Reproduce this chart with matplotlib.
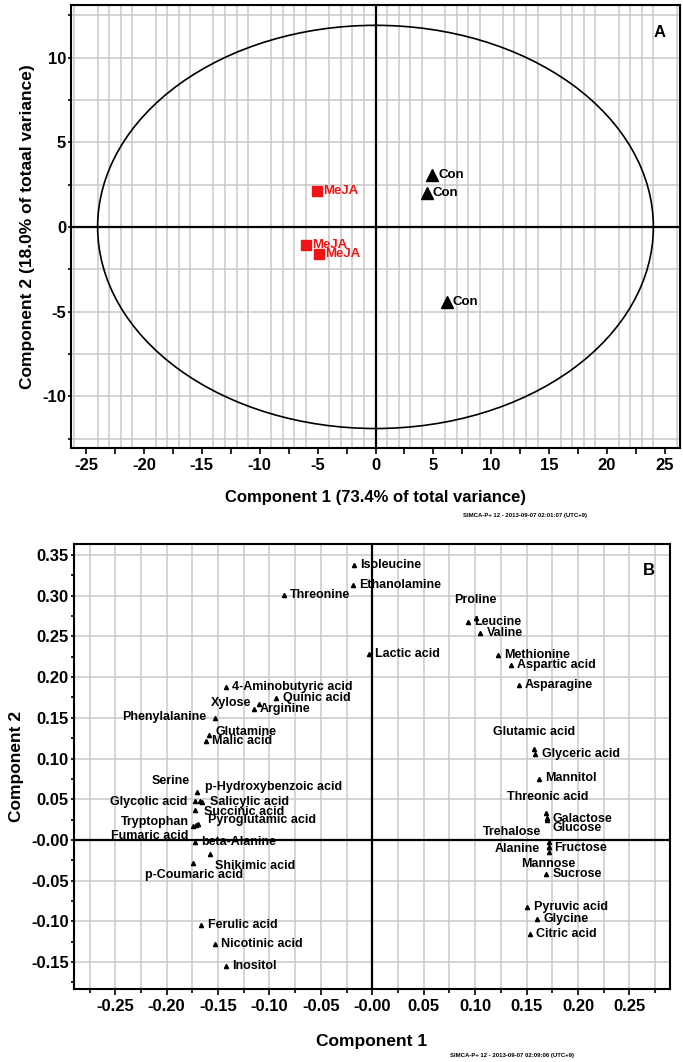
import matplotlib
matplotlib.use("Agg")
import matplotlib.pyplot as plt
from matplotlib.patches import Ellipse
from matplotlib.ticker import MultipleLocator, FuncFormatter
import numpy as np

plt.rcParams['font.family'] = ['Liberation Sans', 'DejaVu Sans']
plt.rcParams['font.weight'] = 'bold'

# ---------------- Panel A data: PCA scores ----------------
score_labels = ['MeJA', 'MeJA', 'MeJA', 'Con', 'Con', 'Con']
score_t1 = [-5.03, -5.98, -4.84, 4.92, 4.43, 6.20]
score_t2 = [2.15, -1.06, -1.59, 3.07, 2.03, -4.41]
ellipse_t1_radius = 24.0
ellipse_t2_radius = 11.9
xlabel_A = 'Component 1 (73.4% of total variance)'
ylabel_A = 'Component 2 (18.0% of totaal variance)'

# ---------------- Panel B data: PCA loadings ----------------
metabolites = ['Isoleucine', 'Ethanolamine', 'Threonine', 'Proline', 'Leucine', 'Valine',
               'Lactic acid', 'Methionine', 'Aspartic acid', 'Asparagine',
               '4-Aminobutyric acid', 'Quinic acid', 'Xylose', 'Arginine', 'Phenylalanine',
               'Glutamine', 'Malic acid', 'Serine', 'p-Hydroxybenzoic acid', 'Glycolic acid',
               'Salicylic acid', 'Succinic acid', 'Tryptophan', 'Pyroglutamic acid',
               'Fumaric acid', 'beta-Alanine', 'Shikimic acid', 'p-Coumaric acid',
               'Ferulic acid', 'Nicotinic acid', 'Inositol', 'Glutamic acid', 'Glyceric acid',
               'Mannitol', 'Threonic acid', 'Galactose', 'Glucose', 'Trehalose', 'Alanine',
               'Fructose', 'Mannose', 'Sucrose', 'Pyruvic acid', 'Glycine', 'Citric acid']
loading_p1 = [-0.0178, -0.0187, -0.0860, 0.1010, 0.0929, 0.1049,
              -0.0031, 0.1221, 0.1351, 0.1422,
              -0.1426, -0.0932, -0.1104, -0.1153, -0.1534,
              -0.1588, -0.1615, -0.1673, -0.1705, -0.1729,
              -0.1657, -0.1722, -0.1739, -0.1693,
              -0.1712, -0.1722, -0.1582, -0.1739,
              -0.1663, -0.1534, -0.1420, 0.1573, 0.1585,
              0.1618, 0.1693, 0.1702, 0.1702, 0.1715, 0.1715,
              0.1715, 0.1715, 0.1693, 0.1507, 0.1605, 0.1530]
loading_p2 = [0.3372, 0.3128, 0.3005, 0.2727, 0.2678, 0.2543,
              0.2286, 0.2271, 0.2148, 0.1903,
              0.1879, 0.1748, 0.1667, 0.1606, 0.1496,
              0.1288, 0.1218, 0.0483, 0.0585, 0.0483,
              0.0471, 0.0370, 0.0177, 0.0202,
              0.0190, -0.0027, -0.0169, -0.0279,
              -0.1038, -0.1283, -0.1548, 0.1116, 0.1055,
              0.0749, 0.0333, 0.0272, 0.0251, -0.0027, -0.0088,
              -0.0080, -0.0149, -0.0414, -0.0823, -0.0973, -0.1157]
xlabel_B = 'Component 1'
ylabel_B = 'Component 2'

# label placement (style): offset in points and horizontal alignment
default_offset = (4.5, 0.0, 'left')
label_offsets = {
    'Proline': (-16.0, 13.2, 'left'),
    'Xylose': (-5.5, 1.2, 'right'),
    'Phenylalanine': (-6.0, 1.0, 'right'),
    'Glutamine': (4.5, 2.0, 'left'),
    'Serine': (-7.7, 14.4, 'right'),
    'p-Hydroxybenzoic acid': (6.0, 3.6, 'left'),
    'Glycolic acid': (-5.0, -1.2, 'right'),
    'Salicylic acid': (5.5, 0.0, 'left'),
    'Succinic acid': (6.0, -1.2, 'left'),
    'Tryptophan': (-3.6, 2.4, 'right'),
    'Fumaric acid': (-5.5, -8.6, 'right'),
    'Pyroglutamic acid': (6.7, 2.2, 'left'),
    'Shikimic acid': (4.0, -9.1, 'left'),
    'p-Coumaric acid': (0.6, -9.1, 'center'),
    'Glutamic acid': (0.0, 12.5, 'center'),
    'Threonic acid': (1.2, 11.2, 'center'),
    'Galactose': (4.0, -0.7, 'left'),
    'Glucose': (4.0, -6.2, 'left'),
    'Trehalose': (-5.3, 7.2, 'right'),
    'Alanine': (-6.5, -1.2, 'right'),
    'Fructose': (4.0, -1.2, 'left'),
    'Mannose': (-0.4, -8.4, 'center'),
    'Mannitol': (4.5, 1.0, 'left'),
}

W, H = 683, 1062
fig = plt.figure(figsize=(W / 100, H / 100), dpi=100)

grid_color = '#c9c9c9'
spine_lw = 1.5


def style_axes(ax):
    for sp in ax.spines.values():
        sp.set_linewidth(spine_lw)
        sp.set_color('black')
    ax.tick_params(which='both', direction='out', width=1.2, colors='black')
    ax.tick_params(axis='x', which='major', length=4)
    ax.tick_params(axis='x', which='minor', length=3)
    ax.tick_params(axis='y', which='both', length=2.5, pad=1)
    ax.tick_params(top=False, right=False)


# ================= Panel A =================
axA = fig.add_axes([71 / W, 1 - 448 / H, 609 / W, 443 / H])
axA.set_xlim(-26.3, 26.3)
axA.set_ylim(-13.05, 13.1)
style_axes(axA)

axA.xaxis.set_major_locator(MultipleLocator(2.5))
axA.xaxis.set_minor_locator(MultipleLocator(1))
axA.yaxis.set_major_locator(MultipleLocator(2.5))


def fmtA(v, pos):
    if abs(v / 5 - round(v / 5)) > 1e-6:
        return ''
    return f'{int(round(v))}'


axA.xaxis.set_major_formatter(FuncFormatter(fmtA))
axA.yaxis.set_major_formatter(FuncFormatter(fmtA))
axA.tick_params(axis='x', which='minor', length=0)
axA.grid(False)
axA.xaxis.grid(True, which='minor', color=grid_color, lw=1.1)
axA.yaxis.grid(True, which='major', color=grid_color, lw=1.1)
axA.set_axisbelow(True)
for lab in axA.get_xticklabels() + axA.get_yticklabels():
    lab.set_fontsize(12)
    lab.set_fontweight('bold')

axA.axhline(0, color='black', lw=1.6, zorder=2)
axA.axvline(0, color='black', lw=1.6, zorder=2)
axA.add_patch(Ellipse((0, 0), 2 * ellipse_t1_radius, 2 * ellipse_t2_radius,
                      fill=False, ec='black', lw=1.2, zorder=3))

red = '#f01414'
for lab, x, y in zip(score_labels, score_t1, score_t2):
    if lab == 'MeJA':
        axA.plot(x, y, marker='s', ms=7, color=red, ls='none', zorder=4)
        col = red
    else:
        axA.plot(x, y, marker='^', ms=8, color='black', ls='none', zorder=4)
        col = 'black'
    axA.annotate(lab, (x, y), xytext=(4, 0), textcoords='offset points',
                 ha='left', va='center', fontsize=9.5, fontweight='bold', color=col, zorder=5)

axA.text(0.966, 0.937, 'A', transform=axA.transAxes, fontsize=12, fontweight='bold',
         ha='center', va='center')
axA.set_xlabel(xlabel_A, fontsize=12, fontweight='bold', labelpad=12)
axA.set_ylabel(ylabel_A, fontsize=12.5, fontweight='bold')
axA.yaxis.set_label_coords(-0.059, 0.5)
fig.text(525 / W, 1 - 515 / H, 'SIMCA-P+ 12 - 2013-09-07 02:01:07 (UTC+9)',
         fontsize=4.3, ha='center', va='center', fontweight='bold')

# ================= Panel B =================
axB = fig.add_axes([73.6 / W, 1 - 989 / H, 596.4 / W, 445 / H])
axB.set_xlim(-0.2905, 0.2895)
axB.set_ylim(-0.183, 0.3635)
style_axes(axB)
axB.xaxis.set_major_locator(MultipleLocator(0.05))
axB.xaxis.set_minor_locator(MultipleLocator(0.025))
axB.yaxis.set_major_locator(MultipleLocator(0.05))
axB.yaxis.set_minor_locator(MultipleLocator(0.025))


def fmtB(v, pos):
    if abs(v) < 1e-9:
        return '-0.00'
    return f'{v:.2f}'


axB.xaxis.set_major_formatter(FuncFormatter(fmtB))
axB.yaxis.set_major_formatter(FuncFormatter(fmtB))
axB.grid(False)
axB.xaxis.grid(True, which='both', color=grid_color, lw=1.1)
axB.yaxis.grid(True, which='major', color=grid_color, lw=1.1)
axB.set_axisbelow(True)
for lab in axB.get_xticklabels() + axB.get_yticklabels():
    lab.set_fontsize(12)
    lab.set_fontweight('bold')

axB.axhline(0, color='black', lw=1.6, zorder=2)
axB.axvline(0, color='black', lw=1.6, zorder=2)

axB.plot(loading_p1, loading_p2, marker='^', ms=3, color='black', ls='none', zorder=4)
for name, x, y in zip(metabolites, loading_p1, loading_p2):
    dx, dy, ha = label_offsets.get(name, default_offset)
    axB.annotate(name, (x, y), xytext=(dx, dy), textcoords='offset points',
                 ha=ha, va='center', fontsize=9, fontweight='bold', color='black', zorder=5)

axB.text(0.965, 0.94, 'B', transform=axB.transAxes, fontsize=12, fontweight='bold',
         ha='center', va='center')
axB.set_xlabel(xlabel_B, fontsize=12.5, fontweight='bold', labelpad=14)
axB.set_ylabel(ylabel_B, fontsize=12.5, fontweight='bold')
axB.yaxis.set_label_coords(-0.083, 0.5)
fig.text(512 / W, 1 - 1056 / H, 'SIMCA-P+ 12 - 2013-09-07 02:09:06 (UTC+9)',
         fontsize=4.3, ha='center', va='center', fontweight='bold')

fig.savefig('out.png', dpi=100)
